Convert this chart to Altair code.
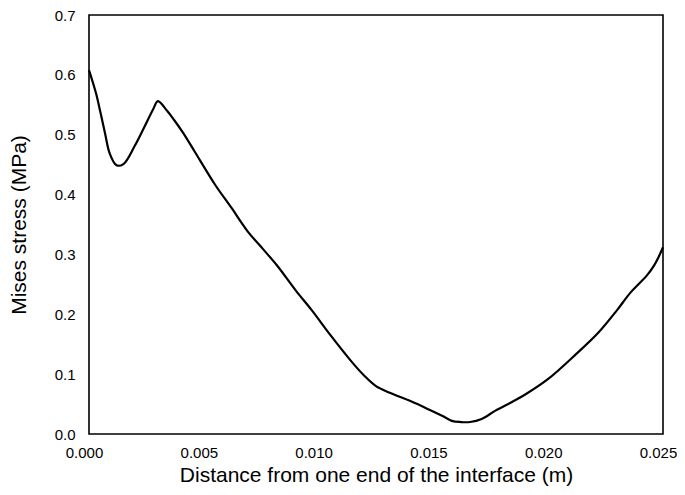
import altair as alt
import pandas as pd

# Distance from one end of the interface (m)
distance = [0.0000, 0.0003, 0.0005, 0.0007, 0.0009, 0.0012, 0.0015, 0.0020,
            0.0024, 0.0028, 0.0030, 0.0034, 0.0037, 0.0041, 0.0046, 0.0055,
            0.0062, 0.0069, 0.0076, 0.0082, 0.0090, 0.0097, 0.0105, 0.0115,
            0.0120, 0.0125, 0.0131, 0.0140, 0.0148, 0.0154, 0.0158, 0.0162,
            0.0166, 0.0171, 0.0177, 0.0184, 0.0190, 0.0200, 0.0212, 0.0222,
            0.0230, 0.0236, 0.0243, 0.0246, 0.0248, 0.0250]
# Mises stress (MPa)
stress = [0.608, 0.570, 0.537, 0.502, 0.469, 0.449, 0.451, 0.482,
          0.512, 0.543, 0.556, 0.540, 0.525, 0.503, 0.472, 0.416,
          0.378, 0.339, 0.308, 0.281, 0.240, 0.207, 0.166, 0.118,
          0.097, 0.080, 0.069, 0.055, 0.041, 0.030, 0.022, 0.020,
          0.020, 0.025, 0.039, 0.053, 0.066, 0.092, 0.133, 0.170,
          0.207, 0.237, 0.265, 0.281, 0.295, 0.312]

x_ticks = [0.000, 0.005, 0.010, 0.015, 0.020, 0.025]
y_ticks = [0.0, 0.1, 0.2, 0.3, 0.4, 0.5, 0.6, 0.7]

df = pd.DataFrame({"d": distance, "s": stress})

FONT = "Liberation Sans"

chart = alt.Chart(df).mark_line(
    color="black", strokeWidth=2.2, interpolate="catmull-rom"
).encode(
    x=alt.X("d:Q",
            scale=alt.Scale(domain=[0, 0.025], nice=False, zero=False),
            axis=alt.Axis(values=x_ticks, format=".3f",
                          title="Distance from one end of the interface (m)",
                          domain=False, ticks=False, grid=False,
                          labelFlush=False, labelOffset=-5,
                          labelPadding=11, labelFontSize=15,
                          titleFontSize=21, titlePadding=4,
                          labelColor="black", titleColor="black",
                          titleFontWeight="normal",
                          labelFont=FONT, titleFont=FONT)),
    y=alt.Y("s:Q",
            scale=alt.Scale(domain=[0, 0.7], nice=False),
            axis=alt.Axis(values=y_ticks, format=".1f",
                          title="Mises stress (MPa)",
                          domain=False, ticks=False, grid=False,
                          labelFlush=False,
                          labelPadding=14, labelFontSize=15,
                          titleFontSize=21, titlePadding=25,
                          labelColor="black", titleColor="black",
                          titleFontWeight="normal",
                          labelFont=FONT, titleFont=FONT)),
).properties(
    width=574,
    height=419,
    autosize=alt.AutoSizeParams(type="none"),
    padding={"left": 81, "top": 7, "right": 14, "bottom": 53},
).configure(
    background="white"
).configure_view(
    stroke="black", strokeWidth=1.6
)

chart.save("out.html", embed_options={"renderer": "svg", "actions": False})
